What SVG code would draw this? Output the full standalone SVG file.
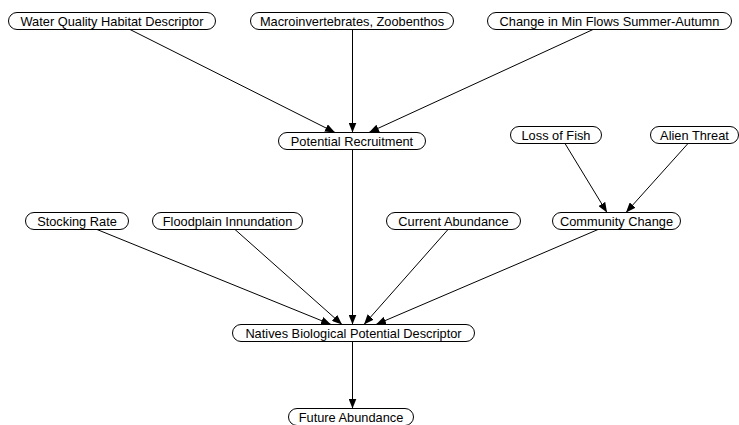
<svg xmlns="http://www.w3.org/2000/svg" width="739" height="425" viewBox="0 0 739 425">
  <style>
    .node rect { fill: #ffffff; stroke: #000000; stroke-width: 1; }
    .node text { font-family: "Liberation Sans", Arial, sans-serif; font-size: 12.8px; fill: #000000; text-anchor: middle; dominant-baseline: central; }
    .edges line { stroke: #000000; stroke-width: 1; marker-end: url(#arrow); }
  </style>
  <defs>
    <marker id="arrow" markerWidth="10" markerHeight="8" refX="10" refY="4" orient="auto" markerUnits="userSpaceOnUse">
      <path d="M0,0 L10,4 L0,8 Z" fill="#000000"/>
    </marker>
  </defs>

  <rect x="0" y="0" width="739" height="425" fill="#ffffff"/>

  <g class="edges">
    <line x1="130" y1="29.5" x2="335" y2="132.5"/>
    <line x1="352.5" y1="29.5" x2="352.5" y2="132.5"/>
    <line x1="593" y1="29.5" x2="369" y2="132.5"/>
    <line x1="352.5" y1="149.5" x2="352.5" y2="324.5"/>
    <line x1="565" y1="143.5" x2="607" y2="212.5"/>
    <line x1="688" y1="143.5" x2="626" y2="212.5"/>
    <line x1="97" y1="229.5" x2="331" y2="324.5"/>
    <line x1="235" y1="229.5" x2="342" y2="324.5"/>
    <line x1="448" y1="229.5" x2="364" y2="324.5"/>
    <line x1="598" y1="229.5" x2="376" y2="324.5"/>
    <line x1="352.5" y1="341.5" x2="352.5" y2="408.5"/>
  </g>

  <g id="water-quality" class="node">
    <rect x="8.5" y="12.5" width="207" height="17" rx="8.5"/>
    <text x="112" y="21">Water Quality Habitat Descriptor</text>
  </g>
  <g id="macroinvertebrates" class="node">
    <rect x="250.5" y="12.5" width="203" height="17" rx="8.5"/>
    <text x="352" y="21">Macroinvertebrates, Zoobenthos</text>
  </g>
  <g id="min-flows" class="node">
    <rect x="487.5" y="12.5" width="244" height="17" rx="8.5"/>
    <text x="609.5" y="21">Change in Min Flows Summer-Autumn</text>
  </g>
  <g id="potential-recruitment" class="node">
    <rect x="278.5" y="132.5" width="147" height="17" rx="8.5"/>
    <text x="352" y="141">Potential Recruitment</text>
  </g>
  <g id="loss-of-fish" class="node">
    <rect x="510.5" y="126.5" width="91" height="17" rx="8.5"/>
    <text x="556" y="135">Loss of Fish</text>
  </g>
  <g id="alien-threat" class="node">
    <rect x="650.5" y="126.5" width="88" height="17" rx="8.5"/>
    <text x="694.5" y="135">Alien Threat</text>
  </g>
  <g id="stocking-rate" class="node">
    <rect x="25.5" y="212.5" width="103" height="17" rx="8.5"/>
    <text x="77" y="221">Stocking Rate</text>
  </g>
  <g id="floodplain" class="node">
    <rect x="152.5" y="212.5" width="150" height="17" rx="8.5"/>
    <text x="227.5" y="221">Floodplain Innundation</text>
  </g>
  <g id="current-abundance" class="node">
    <rect x="386.5" y="212.5" width="134" height="17" rx="8.5"/>
    <text x="453.5" y="221">Current Abundance</text>
  </g>
  <g id="community-change" class="node">
    <rect x="552.5" y="212.5" width="128" height="17" rx="8.5"/>
    <text x="616.5" y="221">Community Change</text>
  </g>
  <g id="natives-potential" class="node">
    <rect x="232.5" y="324.5" width="242" height="17" rx="8.5"/>
    <text x="353.5" y="333">Natives Biological Potential Descriptor</text>
  </g>
  <g id="future-abundance" class="node">
    <rect x="288.5" y="408.5" width="125" height="17" rx="8.5"/>
    <text x="351" y="417">Future Abundance</text>
  </g>
</svg>
